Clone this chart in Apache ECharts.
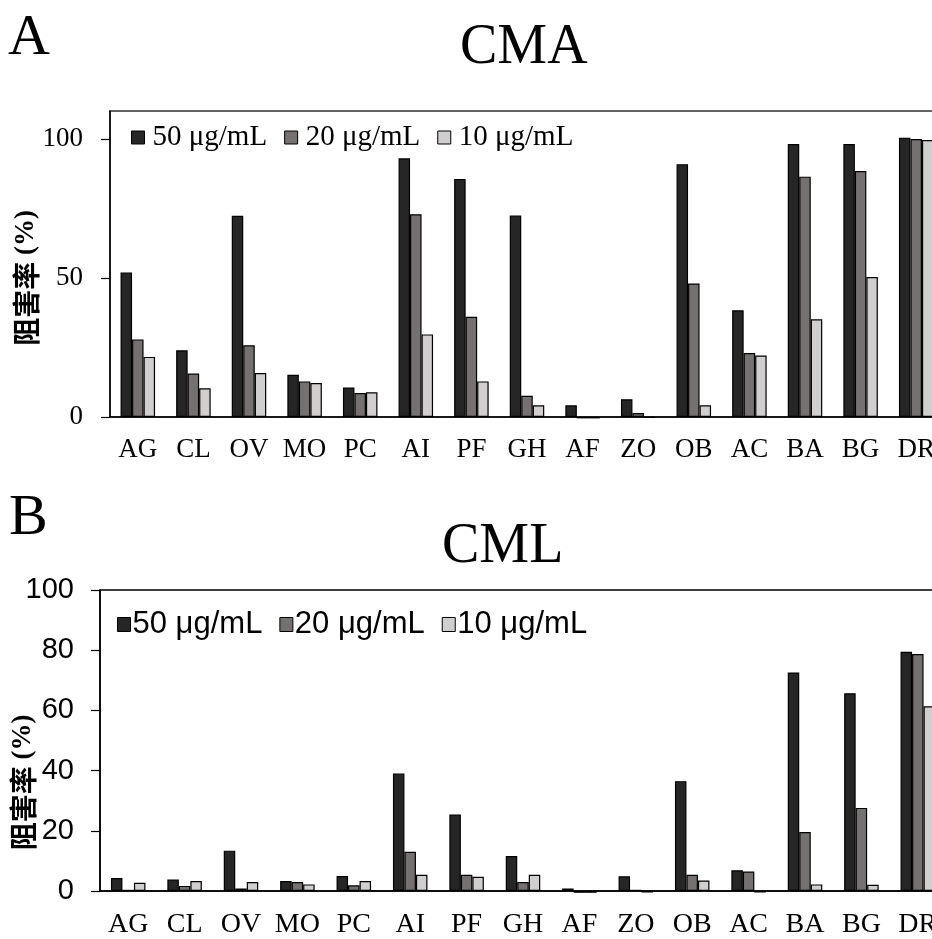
<!DOCTYPE html>
<html>
<head>
  <meta charset="utf-8">
  <title>CMA / CML</title>
  <script src="https://cdn.jsdelivr.net/npm/echarts@6/dist/echarts.min.js"></script>
  <style>
    html, body { margin: 0; padding: 0; background: #fff; }
    #main { width: 932px; height: 939px; }
  </style>
</head>
<body>
  <div id="main"></div>
  <script>
    // categories (shared by both panels)
    var categories = ['AG', 'CL', 'OV', 'MO', 'PC', 'AI', 'PF', 'GH', 'AF', 'ZO', 'OB', 'AC', 'BA', 'BG', 'DR'];
    var seriesNames = ['50 μg/mL', '20 μg/mL', '10 μg/mL'];

    // panel A: CMA
    var cma50 = [51.9, 24.0, 72.3, 15.2, 10.6, 93.0, 85.6, 72.4, 4.2, 6.4, 90.9, 38.4, 98.1, 98.1, 100.4];
    var cma20 = [27.9, 15.6, 25.8, 12.8, 8.6, 72.9, 36.0, 7.6, -0.5, 1.4, 48.0, 23.0, 86.4, 88.4, 99.9];
    var cma10 = [21.6, 10.3, 15.8, 12.2, 8.9, 29.7, 12.8, 4.2, -0.5, -0.3, 4.2, 22.1, 35.1, 50.3, 99.6];
    var cmaTicks = [0, 50, 100];

    // panel B: CML
    var cml50 = [4.3, 3.8, 13.4, 3.3, 5.0, 39.0, 25.4, 11.6, 0.8, 4.9, 36.5, 6.9, 72.6, 65.7, 79.5];
    var cml20 = [0.4, 1.7, 0.8, 3.0, 1.9, 13.0, 5.4, 3.0, -0.6, 0.4, 5.4, 6.5, 19.6, 27.6, 78.7];
    var cml10 = [2.7, 3.3, 3.0, 2.2, 3.3, 5.4, 4.7, 5.4, -0.6, -0.5, 3.5, -0.5, 2.2, 2.1, 61.4];

    var colors = ['#262626', '#767171', '#d0cece'];
    var serif = '"Liberation Serif", "Times New Roman", serif';
    var sans = '"Liberation Sans", Arial, sans-serif';

    var chart = echarts.init(document.getElementById('main'));

    function barSeries(name, data, idx, color) {
      return {
        name: name,
        type: 'bar',
        xAxisIndex: idx,
        yAxisIndex: idx,
        data: data,
        barWidth: 11.5,
        barGap: '0%',
        clip: false,
        itemStyle: { color: color, borderColor: '#000', borderWidth: 1.2 },
        emphasis: { disabled: true }
      };
    }

    function yName(padRight) {
      return {
        rich: {
          cjk: { fontFamily: '"Noto Sans CJK SC"', fontWeight: 'bold', fontSize: 28, color: '#000' },
          pct: { fontFamily: serif, fontWeight: 'bold', fontSize: 27, color: '#000' }
        },
        padding: [0, padRight, 0, 0]
      };
    }

    function legendData() {
      return seriesNames.map(function (n, i) {
        return { name: n, itemStyle: { color: colors[i], borderColor: '#000', borderWidth: 1 } };
      });
    }

    var option = {
      animation: false,
      backgroundColor: '#fff',
      title: [
        { text: 'A', left: 3, top: 5, textStyle: { fontFamily: serif, fontSize: 58, fontWeight: 'normal', color: '#000' } },
        { text: 'CMA', left: 455, top: 15, textStyle: { fontFamily: serif, fontSize: 56, fontWeight: 'normal', color: '#000' } },
        { text: 'B', left: 4, top: 485, textStyle: { fontFamily: serif, fontSize: 58, fontWeight: 'normal', color: '#000' } },
        { text: 'CML', left: 437, top: 514, textStyle: { fontFamily: serif, fontSize: 56, fontWeight: 'normal', color: '#000' } }
      ],
      legend: [
        {
          data: legendData(),
          left: 126, top: 118,
          icon: 'rect', itemWidth: 13, itemHeight: 13, itemGap: 17,
          textStyle: { fontFamily: serif, fontSize: 29, color: '#000', padding: [0, 0, 0, 3] },
          selectedMode: false
        },
        {
          data: legendData(),
          left: 112, top: 604,
          icon: 'rect', itemWidth: 13, itemHeight: 14, itemGap: 17,
          textStyle: { fontFamily: sans, fontSize: 31, color: '#000', padding: [0, 0, 0, -3] },
          selectedMode: false
        }
      ],
      grid: [
        { left: 110, top: 111, width: 834, height: 306, outerBoundsMode: 'none', show: true, borderColor: '#333', borderWidth: 1.5, backgroundColor: 'transparent' },
        { left: 100, top: 590, width: 846, height: 301, outerBoundsMode: 'none', show: true, borderColor: '#000', borderWidth: 1.5, backgroundColor: 'transparent' }
      ],
      xAxis: [
        {
          type: 'category', gridIndex: 0, data: categories,
          axisTick: { show: false },
          axisLine: { lineStyle: { color: '#000', width: 1.5 } },
          axisLabel: { fontFamily: serif, fontSize: 27, color: '#000', margin: 19, interval: 0 }
        },
        {
          type: 'category', gridIndex: 1, data: categories,
          axisTick: { show: false },
          axisLine: { lineStyle: { color: '#000', width: 1.5 } },
          axisLabel: { fontFamily: serif, fontSize: 28, color: '#000', margin: 20, interval: 0 }
        }
      ],
      yAxis: [
        {
          type: 'value', gridIndex: 0, min: 0, max: 110,
          name: '{cjk|阻害率}{pct| (%)}', nameLocation: 'middle', nameGap: 70, nameRotate: 90,
          nameMoveOverlap: false,
          nameTextStyle: yName(28),
          axisLine: { show: true, lineStyle: { color: '#000', width: 1.5 } },
          axisTick: { show: true, length: 9, customValues: cmaTicks, lineStyle: { color: '#000', width: 1.2 } },
          splitLine: { show: false },
          axisLabel: { customValues: cmaTicks, fontFamily: serif, fontSize: 27, color: '#000', margin: 27 }
        },
        {
          type: 'value', gridIndex: 1, min: 0, max: 100, interval: 20,
          name: '{cjk|阻害率}{pct| (%)}', nameLocation: 'middle', nameGap: 63, nameRotate: 90,
          nameMoveOverlap: false,
          nameTextStyle: yName(84),
          axisLine: { show: true, lineStyle: { color: '#000', width: 1.5 } },
          axisTick: { show: true, length: 9, lineStyle: { color: '#000', width: 1.2 } },
          splitLine: { show: false },
          axisLabel: { fontFamily: sans, fontSize: 29, color: '#000', margin: 26 }
        }
      ],
      series: [
        barSeries(seriesNames[0], cma50, 0, colors[0]),
        barSeries(seriesNames[1], cma20, 0, colors[1]),
        barSeries(seriesNames[2], cma10, 0, colors[2]),
        barSeries(seriesNames[0], cml50, 1, colors[0]),
        barSeries(seriesNames[1], cml20, 1, colors[1]),
        barSeries(seriesNames[2], cml10, 1, colors[2])
      ]
    };
    chart.setOption(option);
  </script>
</body>
</html>
